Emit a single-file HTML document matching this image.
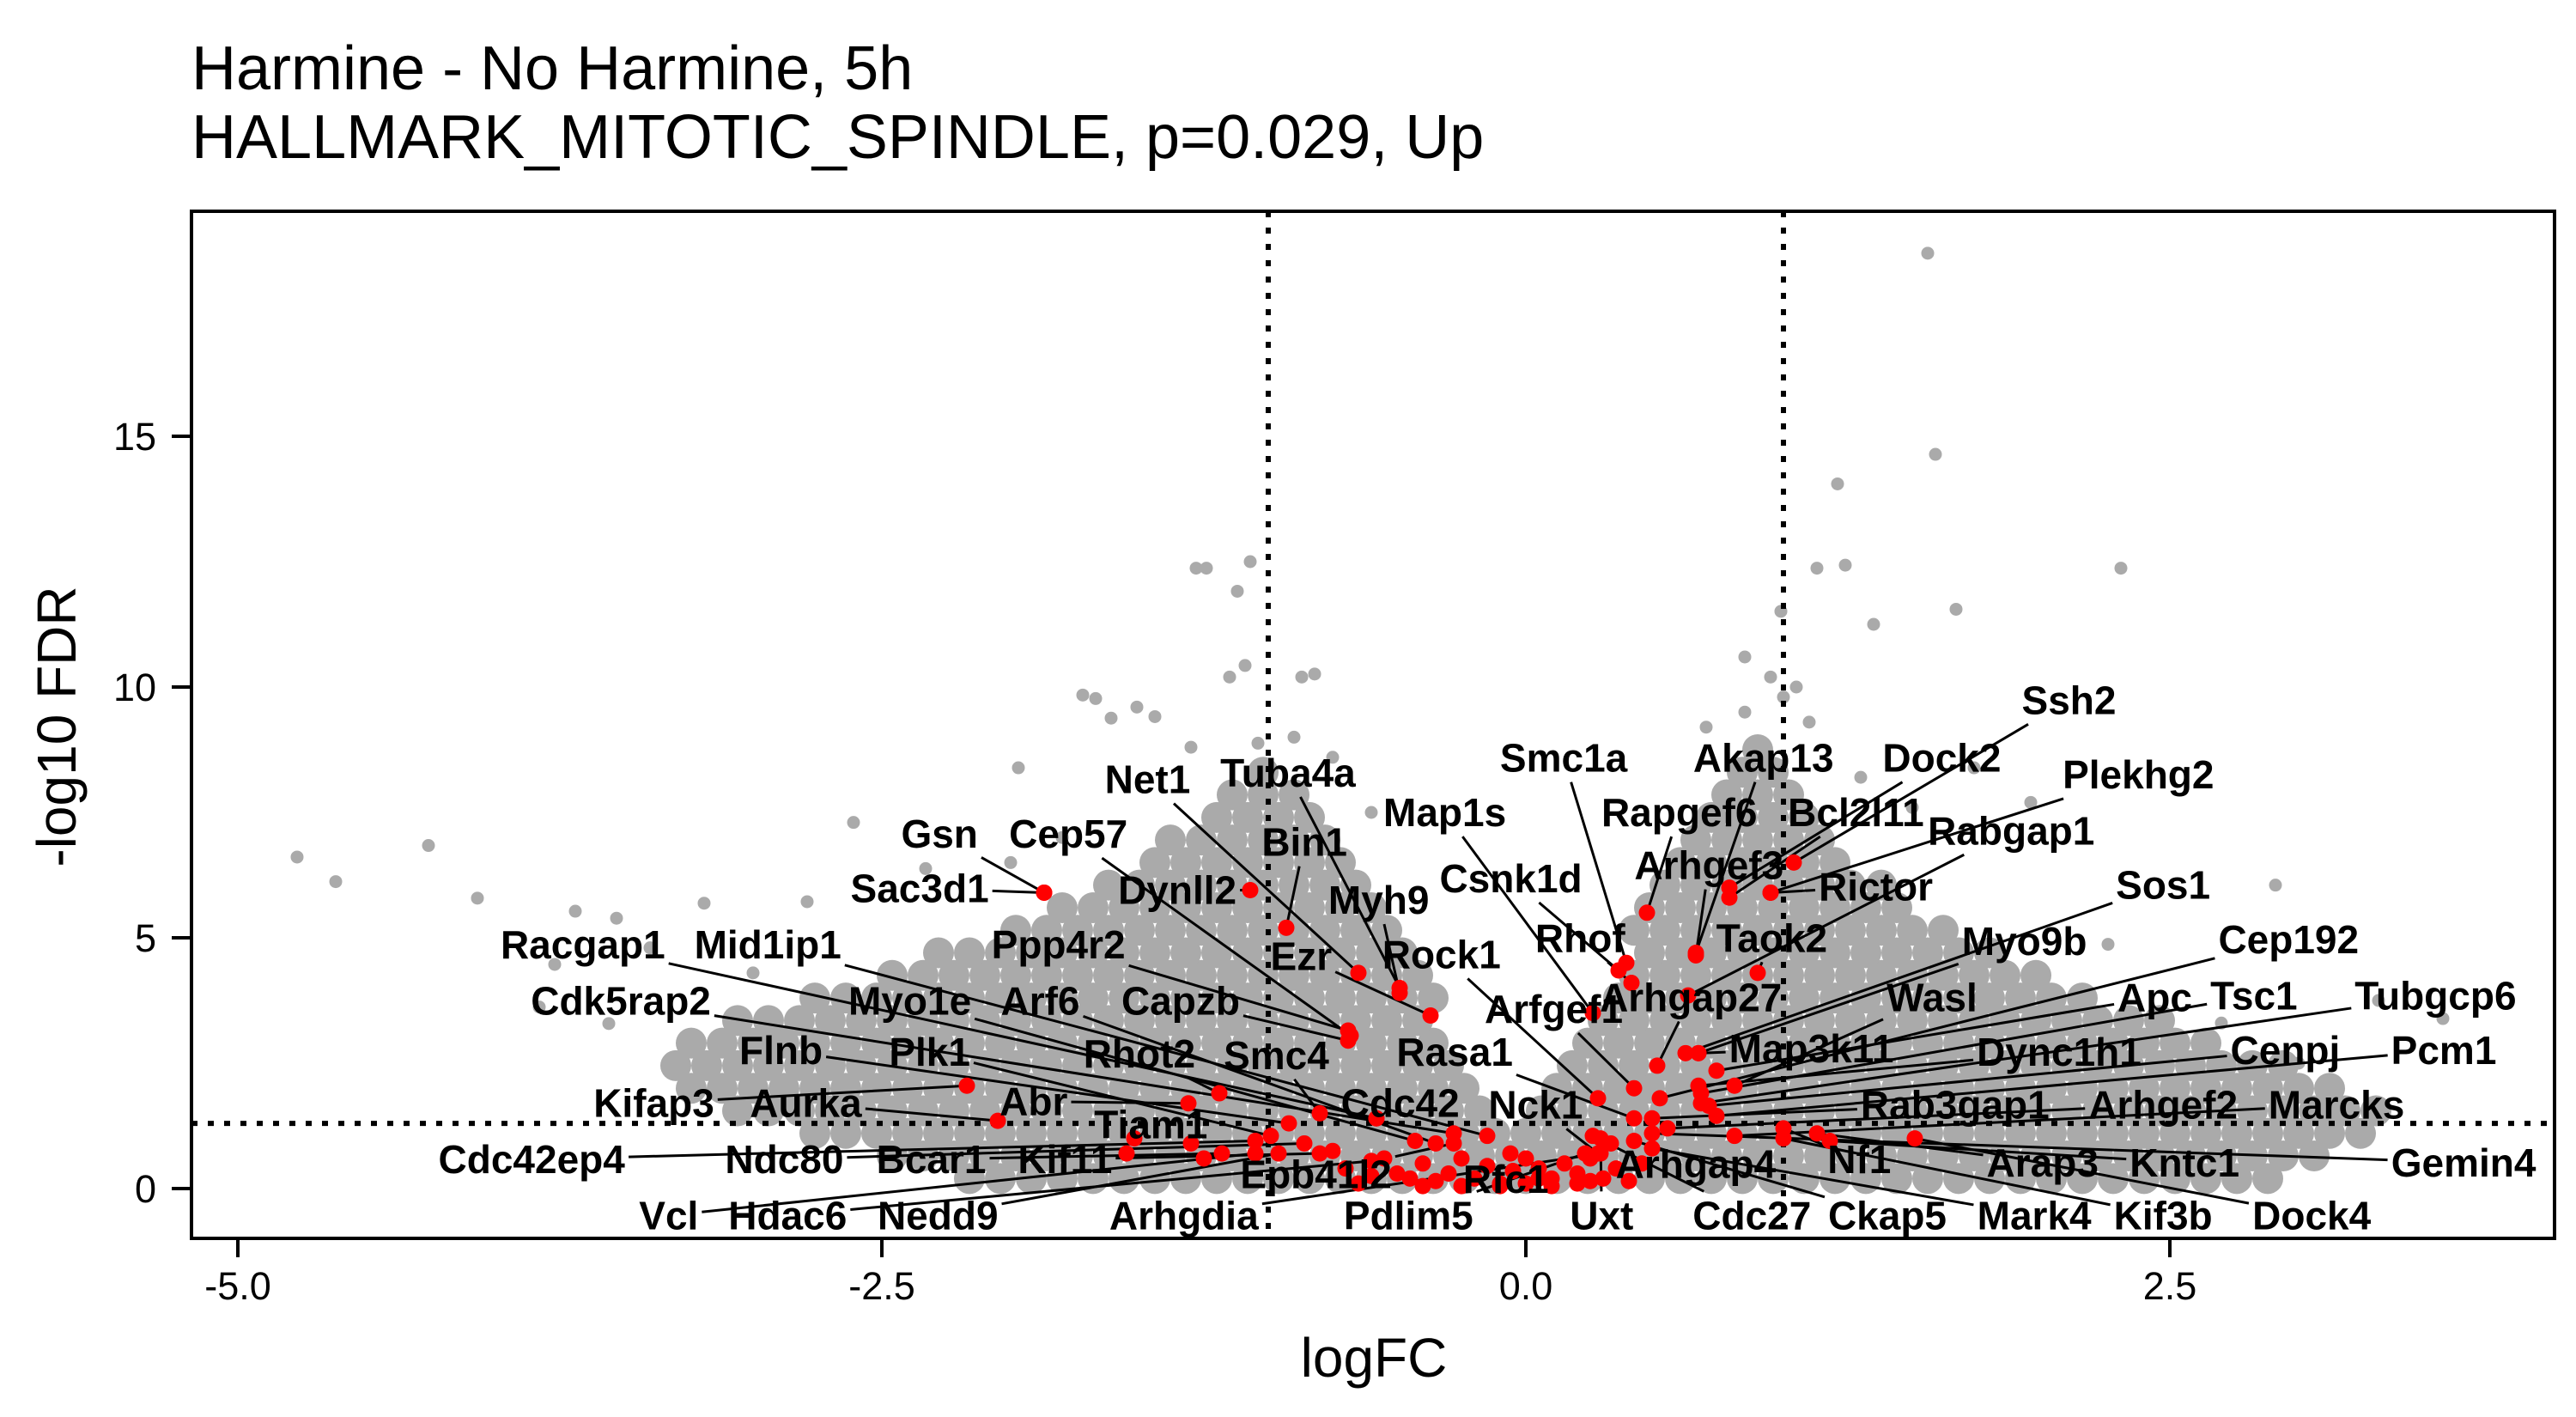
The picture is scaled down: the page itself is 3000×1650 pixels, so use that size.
<!DOCTYPE html>
<html><head><meta charset="utf-8">
<style>
html,body{margin:0;padding:0;background:#fff;}
svg{display:block;font-family:"Liberation Sans",Arial,sans-serif;}
</style></head>
<body>
<svg id="chart" width="3000" height="1650" viewBox="0 0 3000 1650" xmlns="http://www.w3.org/2000/svg">
<rect x="0" y="0" width="3000" height="1650" fill="#fff"/>
<text x="223" y="104" font-size="72" fill="#000">Harmine - No Harmine, 5h</text>
<text x="223" y="184" font-size="72" fill="#000">HALLMARK_MITOTIC_SPINDLE, p=0.029, Up</text>
<g id="grey"></g>
<g id="thr"></g>
<g id="lines"></g>
<g id="red"></g>
<g id="labels"></g>
<rect x="223" y="246" width="2752" height="1196" fill="none" stroke="#000" stroke-width="4"/>
<g id="axes"></g>
<text x="1600" y="1603" font-size="64" text-anchor="middle" fill="#000">logFC</text>
<text transform="translate(88,846) rotate(-90)" font-size="64" text-anchor="middle" fill="#000">-log10 FDR</text>
</svg>
<script>
// ---- data ----
const xTicks = [-5.0, -2.5, 0.0, 2.5];
const xTickLabels = ["-5.0", "-2.5", "0.0", "2.5"];
const yTicks = [0, 5, 10, 15];
const yTickLabels = ["0", "5", "10", "15"];
const fcThresholds = [-1, 1];
const fdrThreshold = 1.3;

// dense cloud rows: fdr value and logFC values
const cloudFdr = [0.2,0.65,1.1,1.55,2.0,2.45,2.9,3.35,3.8,4.25,4.7,5.15,5.6,6.05,6.5,6.95,7.4,7.85,8.3,8.75];
const cloudFc = [
[-2.16,-2.04,-1.92,-1.8,-1.68,-1.56,-1.44,-1.32,-1.2,-1.08,-0.96,-0.84,-0.72,-0.6,-0.48,-0.36,-0.24,-0.12,0,0.12,0.24,0.36,0.48,0.6,0.72,0.84,0.96,1.08,1.2,1.32,1.44,1.56,1.68,1.8,1.92,2.04,2.16,2.28,2.4,2.52,2.64,2.76,2.88],
[-2.46,-2.34,-2.22,-2.1,-1.98,-1.86,-1.74,-1.62,-1.5,-1.38,-1.26,-1.14,-1.02,-0.9,-0.78,-0.66,-0.54,-0.42,-0.3,-0.18,-0.06,0.06,0.18,0.3,0.42,0.54,0.66,0.78,0.9,1.02,1.14,1.26,1.38,1.5,1.62,1.74,1.86,1.98,2.1,2.22,2.34,2.46,2.58,2.7,2.82,2.94,3.06],
[-2.76,-2.64,-2.52,-2.4,-2.28,-2.16,-2.04,-1.92,-1.8,-1.68,-1.56,-1.44,-1.32,-1.2,-1.08,-0.96,-0.84,-0.72,-0.6,-0.48,-0.36,-0.24,-0.12,0,0.12,0.24,0.36,0.48,0.6,0.72,0.84,0.96,1.08,1.2,1.32,1.44,1.56,1.68,1.8,1.92,2.04,2.16,2.28,2.4,2.52,2.64,2.76,2.88,3.0,3.12,3.24],
[-3.06,-2.94,-2.82,-2.7,-2.58,-2.46,-2.34,-2.22,-2.1,-1.98,-1.86,-1.74,-1.62,-1.5,-1.38,-1.26,-1.14,-1.02,-0.9,-0.78,-0.66,-0.54,-0.42,-0.3,-0.18,0.06,0.18,0.3,0.42,0.54,0.66,0.78,0.9,1.02,1.14,1.26,1.38,1.5,1.62,1.74,1.86,1.98,2.1,2.22,2.34,2.46,2.58,2.7,2.82,2.94,3.06,3.18,3.3],
[-3.24,-3.12,-3.0,-2.88,-2.76,-2.64,-2.52,-2.4,-2.28,-2.16,-2.04,-1.92,-1.8,-1.68,-1.56,-1.44,-1.32,-1.2,-1.08,-0.96,-0.84,-0.72,-0.6,-0.48,-0.36,-0.24,0.12,0.24,0.36,0.48,0.6,0.72,0.84,0.96,1.08,1.2,1.32,1.44,1.56,1.68,1.8,1.92,2.04,2.16,2.28,2.4,2.52,2.64,2.76,2.88,3.0,3.12],
[-3.3,-3.18,-3.06,-2.94,-2.82,-2.7,-2.58,-2.46,-2.34,-2.22,-2.1,-1.98,-1.86,-1.74,-1.62,-1.5,-1.38,-1.26,-1.14,-1.02,-0.9,-0.78,-0.66,-0.54,-0.42,-0.3,0.18,0.3,0.42,0.54,0.66,0.78,0.9,1.02,1.14,1.26,1.38,1.5,1.62,1.74,1.86,1.98,2.1,2.22,2.34,2.46,2.58,2.7,2.82,2.94],
[-3.24,-3.12,-3.0,-2.88,-2.76,-2.64,-2.52,-2.4,-2.28,-2.16,-2.04,-1.92,-1.8,-1.68,-1.56,-1.44,-1.32,-1.2,-1.08,-0.96,-0.84,-0.72,-0.6,-0.48,-0.36,0.24,0.36,0.48,0.6,0.72,0.84,0.96,1.08,1.2,1.32,1.44,1.56,1.68,1.8,1.92,2.04,2.16,2.28,2.4,2.52,2.64],
[-3.06,-2.94,-2.82,-2.7,-2.58,-2.46,-2.34,-2.22,-2.1,-1.98,-1.86,-1.74,-1.62,-1.5,-1.38,-1.26,-1.14,-1.02,-0.9,-0.78,-0.66,-0.54,-0.42,0.3,0.42,0.54,0.66,0.78,0.9,1.02,1.14,1.26,1.38,1.5,1.62,1.74,1.86,1.98,2.1,2.22,2.34,2.46],
[-2.76,-2.64,-2.52,-2.4,-2.28,-2.16,-2.04,-1.92,-1.8,-1.68,-1.56,-1.44,-1.32,-1.2,-1.08,-0.96,-0.84,-0.72,-0.6,-0.48,-0.36,0.36,0.48,0.6,0.72,0.84,0.96,1.08,1.2,1.32,1.44,1.56,1.68,1.8,1.92,2.04,2.16],
[-2.46,-2.34,-2.22,-2.1,-1.98,-1.86,-1.74,-1.62,-1.5,-1.38,-1.26,-1.14,-1.02,-0.9,-0.78,-0.66,-0.54,-0.42,0.42,0.54,0.66,0.78,0.9,1.02,1.14,1.26,1.38,1.5,1.62,1.74,1.86,1.98],
[-2.28,-2.16,-2.04,-1.92,-1.8,-1.68,-1.56,-1.44,-1.32,-1.2,-1.08,-0.96,-0.84,-0.72,-0.6,-0.48,0.48,0.6,0.72,0.84,0.96,1.08,1.2,1.32,1.44,1.56,1.68,1.8],
[-1.98,-1.86,-1.74,-1.62,-1.5,-1.38,-1.26,-1.14,-1.02,-0.9,-0.78,-0.66,-0.54,0.42,0.54,0.66,0.78,0.9,1.02,1.14,1.26,1.38,1.5,1.62],
[-1.8,-1.68,-1.56,-1.44,-1.32,-1.2,-1.08,-0.96,-0.84,-0.72,-0.6,0.48,0.6,0.72,0.84,0.96,1.08,1.2,1.32,1.44],
[-1.62,-1.5,-1.38,-1.26,-1.14,-1.02,-0.9,-0.78,-0.66,0.54,0.66,0.78,0.9,1.02,1.14,1.26,1.38],
[-1.44,-1.32,-1.2,-1.08,-0.96,-0.84,-0.72,0.6,0.72,0.84,0.96,1.08,1.2],
[-1.38,-1.26,-1.14,-1.02,-0.9,-0.78,0.66,0.78,0.9,1.02,1.14],
[-1.2,-1.08,-0.96,-0.84,0.72,0.84,0.96,1.08],
[-1.14,-1.02,-0.9,0.78,0.9,1.02],
[-1.02,0.84,0.96],
[0.9]
];

// sparse grey genes
const greyFc = [-4.77,-4.62,-4.26,-4.07,-3.69,-3.53,-3.83,-3.77,-3.56,-3.19,-2.79,-2.61,-2.33,-1.97,-1.72,-1.67,-1.61,-1.51,-1.44,-1.28,-1.24,-1.12,-1.07,-1.15,-1.09,-0.87,-0.82,-1.04,1.13,1.24,0.99,1.35,1.21,1.59,1.56,1.67,2.31,1.74,1.96,2.26,2.91,3.31,3.56,-0.9,-0.75,-1.3,0.85,1.0,0.7,1.1,-3.4,-3.0,3.0,2.7,-0.6,1.3,1.5,-2.0,-1.8,0.85,0.95,1.05];
const greyFdr = [6.61,6.12,6.84,5.79,5.53,5.39,3.62,4.47,3.29,5.69,5.72,7.3,6.38,8.39,9.84,9.77,9.38,9.6,9.41,12.37,12.37,11.91,12.5,10.2,10.43,10.2,10.26,8.88,12.37,12.43,11.51,11.25,14.05,14.64,18.65,11.55,12.37,8.39,7.7,4.87,6.05,3.75,3.39,9.0,8.6,8.8,9.5,9.8,9.2,9.3,4.8,4.3,2.5,3.3,7.5,8.2,7.6,6.5,7.0,10.6,10.2,10.0];

// labelled pathway genes
const geneNames = ["Ssh2","Dock2","Akap13","Smc1a","Plekhg2","Bcl2l11","Rapgef6","Map1s","Tuba4a","Net1","Bin1","Gsn","Cep57","Sac3d1","Dynll2","Myh9","Rabgap1","Arhgef3","Rictor","Csnk1d","Sos1","Rhof","Taok2","Myo9b","Cep192","Ezr","Rock1","Ppp4r2","Racgap1","Mid1ip1","Arhgap27","Arfgef1","Wasl","Apc","Tsc1","Tubgcp6","Cdk5rap2","Myo1e","Arf6","Capzb","Map3k11","Dync1h1","Cenpj","Pcm1","Flnb","Plk1","Rhot2","Smc4","Rasa1","Kifap3","Aurka","Abr","Cdc42","Nck1","Rab3gap1","Arhgef2","Marcks","Tiam1","Cdc42ep4","Ndc80","Bcar1","Kif11","Epb41l2","Rfc1","Arhgap4","Nf1","Arap3","Kntc1","Gemin4","Vcl","Hdac6","Nedd9","Arhgdia","Pdlim5","Uxt","Cdc27","Ckap5","Mark4","Kif3b","Dock4"];
const geneFc = [1.04,0.79,0.66,0.39,0.95,0.79,0.47,0.26,-0.49,-0.65,-0.93,-1.87,-0.68,-1.87,-1.07,-0.49,0.63,0.66,0.95,0.36,0.62,0.41,0.9,0.67,0.52,-0.37,0.28,-0.69,-0.58,-0.15,0.51,0.42,0.81,0.74,0.68,0.68,-0.28,-0.43,-0.35,-0.69,0.67,0.67,0.71,0.74,-0.92,-0.99,-1.19,-0.8,0.42,-2.17,-2.05,-1.31,-0.58,0.28,0.49,0.55,0.81,-1.52,-1.05,-0.86,-1.18,-0.8,-0.28,-0.06,0.33,1.0,1.13,1.18,0.49,-1.05,-0.6,-0.96,0.29,0.23,0.29,0.26,0.42,0.49,1.0,1.51];
const geneFdr = [6.5,6.0,4.7,4.5,5.9,5.8,5.5,3.5,4.0,4.3,5.2,5.9,3.05,5.9,5.95,3.9,3.85,4.65,5.9,4.35,2.7,4.1,4.3,2.7,1.8,3.45,1.8,3.15,1.4,1.05,2.45,2.0,2.05,2.35,1.9,1.7,1.1,0.95,0.9,2.95,2.7,2.05,1.65,1.45,1.3,1.05,1.9,1.5,1.4,2.05,1.35,1.7,1.4,0.7,1.4,1.2,1.05,1.0,0.95,0.9,0.7,0.7,0.9,0.7,0.9,1.2,1.1,0.95,1.1,0.7,0.55,0.7,0.7,0.7,1.0,1.05,0.95,0.8,1.0,1.0];
// unlabelled pathway genes
const otherRedFc = [-0.3,-0.2,-0.1,0,0.1,0.2,0.15,0.05,-0.05,-0.15,0.25,-0.25,0.3,0.35,-0.4,-0.45,-0.5,0.4,0.0,-0.6,-0.7,-0.55,0.45,-1.3,-1.55,-1.25,-0.75,-0.35,-0.1,0.1,0.2,-0.4,-0.25,0.05,0.25,-0.65];
const otherRedFdr = [0.3,0.2,0.1,0.1,0.2,0.3,0.5,0.4,0.35,0.45,0.6,0.6,0.2,0.4,0.5,0.2,0.3,0.15,0.6,0.25,0.4,0.6,0.5,0.9,0.7,0.6,0.75,0.15,0.05,0.05,0.1,0.05,0.05,0.2,0.15,0.1];

// label layout (reference-image layout units, scaled below)
const labelLayoutX = [1253,1176,1068,947,1295,1124,1017,875,780,695,790,569,647,557,713,835,1218,1035,1136,915,1310,957,1073,1226,1386,788,873,641,353,465,1024,941,1170,1305,1365,1475,376,551,630,715,1097,1247,1384,1480,473,563,690,773,881,396,488,626,848,930,1184,1310,1415,697,322,475,564,645,797,912,1027,1126,1237,1323,1492,405,477,568,717,853,970,1061,1143,1232,1310,1400];
const labelLayoutY = [424,459,459,459,469,492,492,492,468,472,510,505,505,538,539,545,503,524,537,532,536,568,568,570,569,579,578,572,572,572,604,611,604,604,603,603,606,606,606,606,635,637,636,636,636,637,638,639,637,668,668,667,668,669,669,669,669,681,702,702,702,702,711,714,705,702,704,704,704,736,736,736,736,736,736,736,736,736,736,736];

// ---- scales ----
const X0 = 1777, XK = 300, Y0 = 1384, YK = 58.4, LS = 1.923;
function sx(v){ return X0 + XK * v; }
function sy(v){ return Y0 - YK * v; }
const NS = "http://www.w3.org/2000/svg";
function mk(tag, attrs, parent){
  const e = document.createElementNS(NS, tag);
  for (const k in attrs) e.setAttribute(k, attrs[k]);
  parent.appendChild(e);
  return e;
}
const gGrey = document.getElementById('grey');
const gRed = document.getElementById('red');
const gLines = document.getElementById('lines');
const gLabels = document.getElementById('labels');
const gThr = document.getElementById('thr');
const gAxes = document.getElementById('axes');

// cloud
cloudFdr.forEach(function(f, i){
  cloudFc[i].forEach(function(v){
    const c = mk('circle', {cx: sx(v), cy: sy(f), r: 18, fill: '#aaaaaa'}, gGrey);
    
    
  });
});
greyFc.forEach(function(v, i){
  const c = mk('circle', {cx: sx(v), cy: sy(greyFdr[i]), r: 7.5, fill: '#aaaaaa'}, gGrey);
  
  
});

// thresholds
fcThresholds.forEach(function(t){
  const l = mk('line', {x1: sx(t), x2: sx(t), y1: 246, y2: 1442, stroke: '#000', 'stroke-width': 6, 'stroke-dasharray': '7 12'}, gThr);
  
  
});
const hl = mk('line', {x1: 223, x2: 2975, y1: sy(fdrThreshold), y2: sy(fdrThreshold), stroke: '#000', 'stroke-width': 6, 'stroke-dasharray': '7 12'}, gThr);



// red points
otherRedFc.forEach(function(v, i){
  const c = mk('circle', {cx: sx(v), cy: sy(otherRedFdr[i]), r: 9.5, fill: '#ff0000'}, gRed);
  
  
});
geneNames.forEach(function(n, i){
  const px = sx(geneFc[i]), py = sy(geneFdr[i]);
  const c = mk('circle', {cx: px, cy: py, r: 9.5, fill: '#ff0000'}, gRed);
  
  
  const lx = labelLayoutX[i] * LS, ly = labelLayoutY[i] * LS;
  const t = mk('text', {x: lx, y: ly, 'font-size': 46, 'font-weight': 'bold', 'text-anchor': 'middle', 'dominant-baseline': 'central', fill: '#000'}, gLabels);
  t.textContent = n;
  
  
  const bb = t.getBBox();
  const hw = bb.width / 2 + 4, hh = bb.height / 2 + 2;
  const dx = px - lx, dy = py - ly;
  if (Math.abs(dx) <= hw && Math.abs(dy) <= hh) return;
  let s = Infinity;
  if (dx !== 0) s = Math.min(s, hw / Math.abs(dx));
  if (dy !== 0) s = Math.min(s, hh / Math.abs(dy));
  const ln = mk('line', {x1: lx + dx * s, y1: ly + dy * s, x2: px, y2: py, stroke: '#000', 'stroke-width': 3}, gLines);
  
  
});

// axes
xTicks.forEach(function(v, i){
  const tk = mk('line', {x1: sx(v), x2: sx(v), y1: 1442, y2: 1464, stroke: '#000', 'stroke-width': 4}, gAxes);
  
  
  const tl = mk('text', {x: sx(v), y: 1513, 'font-size': 45, 'text-anchor': 'middle', fill: '#000'}, gAxes);
  tl.textContent = xTickLabels[i];
  
  
});
yTicks.forEach(function(v, i){
  const tk = mk('line', {x1: 200, x2: 223, y1: sy(v), y2: sy(v), stroke: '#000', 'stroke-width': 4}, gAxes);
  
  
  const tl = mk('text', {x: 182, y: sy(v) + 16, 'font-size': 45, 'text-anchor': 'end', fill: '#000'}, gAxes);
  tl.textContent = yTickLabels[i];
  
  
});
</script>
</body></html>
